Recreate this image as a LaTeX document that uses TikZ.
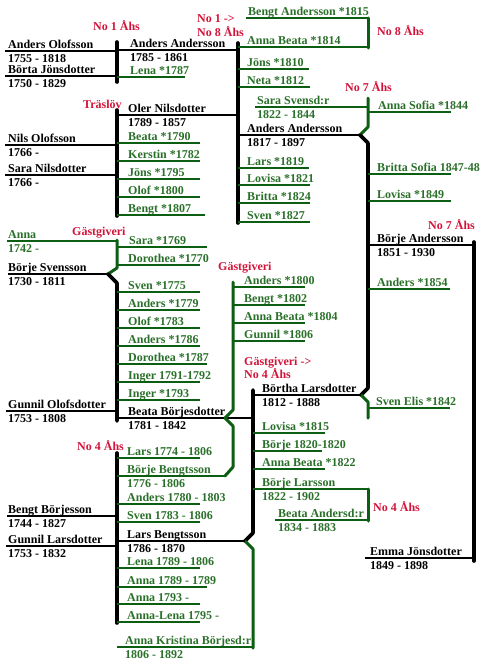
\documentclass[tikz,border=0pt]{standalone}
\usepackage{fontspec}
\setmainfont{Liberation Serif}
\usepackage{tikz}
\usetikzlibrary{positioning}
\definecolor{Leaf}{HTML}{0C5E12}
\definecolor{LeafText}{HTML}{2A702A}
\definecolor{Crimson}{HTML}{D2143A}
\tikzset{
  pname/.style={anchor=base west, inner sep=0pt, font=\fontsize{12}{14}\selectfont\bfseries},
  pkid/.style={pname, text=LeafText},
  pnote/.style={pname, text=Crimson},
  tie/.style={line width=2.8pt},
  kidtie/.style={line width=2.2pt, draw=Leaf},
  bar/.style={line width=3.6pt, line cap=round, line join=round},
  kidbar/.style={line width=3pt, draw=Leaf, line cap=round, line join=round},
}

\begin{document}
\begin{tikzpicture}[x=1pt, y=-1pt]
  \useasboundingbox (0,0) rectangle (490,665);

  % top left family
  \node[pnote] (n1) at (93,30) {No 1 Åhs};
  \node[pnote] (n18a) at (197,22) {No 1 ->};
  \node[pnote] (n18b) at (197,36) {No 8 Åhs};
  \node[pname] (aolof) at (8,48) {Anders Olofsson};
  \node[pname] (aolofd) at (8,62) {1755 - 1818};
  \node[pname] (bjons) at (8,73) {Börta Jönsdotter};
  \node[pname] (bjonsd) at (8,87) {1750 - 1829};
  \draw[tie] (5,51) -- (117,51);
  \draw[tie] (5,76) -- (117,76);
  \draw[bar] (117,42) -- (117,82);
  \node[pname] (aand) at (130,47) {Anders Andersson};
  \node[pname] (aandd) at (130,61) {1785 - 1861};
  \draw[tie] (117,50) -- (238,50);
  \node[pkid] (lena) at (130,74) {Lena *1787};
  \draw[kidtie] (117,77) -- (185,77);

  % Traslov family
  \node[pnote] (tras) at (83,108) {Träslöv};
  \node[pname] (oler) at (128,112) {Oler Nilsdotter};
  \node[pname] (olerd) at (128,126) {1789 - 1857};
  \draw[tie] (117,115) -- (238,115);
  \node[pname] (nolof) at (8,142) {Nils Olofsson};
  \node[pname] (nolofd) at (8,156) {1766 -};
  \draw[tie] (5,145) -- (117,145);
  \node[pname] (snils) at (8,172) {Sara Nilsdotter};
  \node[pname] (snilsd) at (8,186) {1766 -};
  \draw[tie] (5,175) -- (117,175);
  \draw[bar] (117,110) -- (117,216);
  \node[pkid] (beata90) at (128,140) {Beata *1790};
  \draw[kidtie] (117,143) -- (200,143);
  \node[pkid] (kerst) at (128,158) {Kerstin *1782};
  \draw[kidtie] (117,161) -- (200,161);
  \node[pkid] (jons95) at (128,176) {Jöns *1795};
  \draw[kidtie] (117,179) -- (200,179);
  \node[pkid] (olof00) at (128,194) {Olof *1800};
  \draw[kidtie] (117,197) -- (200,197);
  \node[pkid] (bengt07) at (128,212) {Bengt *1807};
  \draw[kidtie] (117,215) -- (205,215);

  % children of Anders and Oler
  \draw[bar] (238,43) -- (238,223);
  \node[pkid] (bengt15) at (248,15) {Bengt Andersson *1815};
  \draw[kidtie] (246,18) -- (368,18);
  \node[pkid] (abeata14) at (247,44) {Anna Beata *1814};
  \draw[kidtie] (238,47) -- (368,47);
  \draw[kidbar] (368,18) -- (368,48);
  \node[pnote] (n8) at (377,35.5) {No 8 Åhs};
  \node[pkid] (jons10) at (247,66) {Jöns *1810};
  \draw[kidtie] (238,69) -- (309,69);
  \node[pkid] (neta) at (247,84) {Neta *1812};
  \draw[kidtie] (238,87) -- (310,87);
  \node[pnote] (n7a) at (345,91.5) {No 7 Åhs};
  \node[pkid] (ssven) at (257,104) {Sara Svensd:r};
  \node[pkid] (ssvend) at (257,118) {1822 - 1844};
  \draw[kidtie] (255,107) -- (368,107);
  \node[pname] (aand17) at (247,132) {Anders Andersson};
  \node[pname] (aand17d) at (247,146) {1817 - 1897};
  \draw[tie] (238,135) -- (360,135);
  \node[pkid] (lars19) at (247,165) {Lars *1819};
  \draw[kidtie] (238,168) -- (309,168);
  \node[pkid] (lov21) at (247,182) {Lovisa *1821};
  \draw[kidtie] (238,185) -- (310,185);
  \node[pkid] (brit24) at (247,200) {Britta *1824};
  \draw[kidtie] (238,203) -- (310,203);
  \node[pkid] (sven27) at (247,219) {Sven *1827};
  \draw[kidtie] (238,222) -- (310,222);

  % children of Anders Andersson 1817
  \draw[kidbar] (368,98) -- (368,127) -- (360,135);
  \draw[bar] (360,135) -- (368,143) -- (368,388) -- (361,395);
  \draw[kidbar] (361,395) -- (368,402) -- (368,418);
  \node[pkid] (asofia) at (378,109) {Anna Sofia *1844};
  \draw[kidtie] (368,112) -- (451,112);
  \node[pkid] (bsofia) at (377,171) {Britta Sofia 1847-48};
  \draw[kidtie] (368,174) -- (451,174);
  \node[pkid] (lov49) at (377,198) {Lovisa *1849};
  \draw[kidtie] (368,201) -- (451,201);
  \node[pnote] (n7b) at (428,229) {No 7 Åhs};
  \node[pname] (band) at (377,242) {Börje Andersson};
  \node[pname] (bandd) at (377,256) {1851 - 1930};
  \draw[tie] (368,245) -- (474,245);
  \draw[bar] (474,242) -- (474,561);
  \node[pkid] (and54) at (377,286) {Anders *1854};
  \draw[kidtie] (368,289) -- (450,289);
  \node[pkid] (selis) at (376,405) {Sven Elis *1842};
  \draw[kidtie] (368,408) -- (450,408);
  \node[pname] (emma) at (370,555) {Emma Jönsdotter};
  \node[pname] (emmad) at (370,569) {1849 - 1898};
  \draw[tie] (365,558) -- (474,558);

  % Borje Svensson family
  \node[pnote] (gast1) at (72,235) {Gästgiveri};
  \node[pkid] (anna42) at (8,238) {Anna};
  \node[pkid] (anna42d) at (8,252) {1742 -};
  \draw[kidtie] (7,241) -- (117,241);
  \node[pkid] (sara69) at (129,244) {Sara *1769};
  \draw[kidtie] (117,247) -- (207,247);
  \node[pkid] (doro70) at (128,262) {Dorothea *1770};
  \draw[kidtie] (117,265) -- (200,265);
  \draw[kidbar] (117,240) -- (117,268) -- (108,274);
  \node[pname] (bsven) at (8,271) {Börje Svensson};
  \node[pname] (bsvend) at (8,285) {1730 - 1811};
  \draw[tie] (8,274) -- (108,274);
  \draw[bar] (108,274) -- (117,283) -- (117,421);
  \node[pkid] (sven75) at (128,289) {Sven *1775};
  \draw[kidtie] (117,292) -- (200,292);
  \node[pkid] (and79) at (128,307) {Anders *1779};
  \draw[kidtie] (117,310) -- (200,310);
  \node[pkid] (olof83) at (128,325) {Olof *1783};
  \draw[kidtie] (117,328) -- (200,328);
  \node[pkid] (and86) at (128,343) {Anders *1786};
  \draw[kidtie] (117,346) -- (200,346);
  \node[pkid] (doro87) at (128,361) {Dorothea *1787};
  \draw[kidtie] (117,364) -- (207,364);
  \node[pkid] (inger91) at (128,379) {Inger 1791-1792};
  \draw[kidtie] (117,382) -- (200,382);
  \node[pkid] (inger93) at (128,397) {Inger *1793};
  \draw[kidtie] (117,400) -- (200,400);
  \node[pname] (golof) at (8,408) {Gunnil Olofsdotter};
  \node[pname] (golofd) at (8,422) {1753 - 1808};
  \draw[tie] (6,411) -- (117,411);
  \node[pname] (bborj) at (128,415) {Beata Börjesdotter};
  \node[pname] (bborjd) at (128,429) {1781 - 1842};
  \draw[tie] (117,418) -- (253,418);

  % Gastgiveri children
  \node[pnote] (gast2) at (218,270) {Gästgiveri};
  \draw[kidbar] (233,282) -- (233,410) -- (225,418) -- (233,426) -- (233,467) -- (225,476);
  \node[pkid] (and00) at (244,284) {Anders *1800};
  \draw[kidtie] (233,287) -- (305,287);
  \node[pkid] (bengt02) at (244,302) {Bengt *1802};
  \draw[kidtie] (233,305) -- (305,305);
  \node[pkid] (abeata04) at (244,320) {Anna Beata *1804};
  \draw[kidtie] (233,323) -- (305,323);
  \node[pkid] (gunn06) at (244,338) {Gunnil *1806};
  \draw[kidtie] (233,341) -- (305,341);
  \node[pnote] (gast3) at (244,365) {Gästgiveri ->};
  \node[pnote] (n4a) at (244,378) {No 4 Åhs};

  % children of Lars and Beata
  \draw[bar] (253,390) -- (253,533) -- (245,541);
  \draw[kidbar] (245,541) -- (253,549) -- (253,648);
  \node[pname] (blars) at (262,392) {Börtha Larsdotter};
  \node[pname] (blarsd) at (262,406) {1812 - 1888};
  \draw[tie] (253,395) -- (361,395);
  \node[pkid] (lov15) at (262,430) {Lovisa *1815};
  \draw[kidtie] (253,433) -- (325,433);
  \node[pkid] (borje20) at (262,448) {Börje 1820-1820};
  \draw[kidtie] (253,451) -- (322,451);
  \node[pkid] (abeata22) at (262,466) {Anna Beata *1822};
  \draw[kidtie] (253,469) -- (325,469);
  \node[pkid] (blarsson) at (262,486) {Börje Larsson};
  \node[pkid] (blarssond) at (262,500) {1822 - 1902};
  \draw[kidtie] (253,489) -- (368,489);
  \node[pkid] (bandsd) at (278,517) {Beata Andersd:r};
  \node[pkid] (bandsdd) at (278,531) {1834 - 1883};
  \draw[kidtie] (275,520) -- (368,520);
  \draw[kidbar] (368,489) -- (368,521);
  \node[pnote] (n4b) at (373,511) {No 4 Åhs};

  % Bengt Borjesson family
  \node[pnote] (n4c) at (77,450) {No 4 Åhs};
  \draw[bar] (117,453) -- (117,623);
  \node[pkid] (lars74) at (127,455) {Lars 1774 - 1806};
  \draw[kidtie] (117,458) -- (200,458);
  \node[pkid] (bbengt) at (127,473) {Börje Bengtsson};
  \node[pkid] (bbengtd) at (127,487) {1776 - 1806};
  \draw[kidtie] (117,476) -- (225,476);
  \node[pkid] (and80) at (127,501) {Anders 1780 - 1803};
  \draw[kidtie] (117,504) -- (200,504);
  \node[pkid] (sven83) at (127,519) {Sven 1783 - 1806};
  \draw[kidtie] (117,522) -- (200,522);
  \node[pname] (bborjes) at (8,513) {Bengt Börjesson};
  \node[pname] (bborjesd) at (8,527) {1744 - 1827};
  \draw[tie] (7,516) -- (117,516);
  \node[pname] (glars) at (8,543) {Gunnil Larsdotter};
  \node[pname] (glarsd) at (8,557) {1753 - 1832};
  \draw[tie] (6,546) -- (117,546);
  \node[pname] (lbengt) at (127,538) {Lars Bengtsson};
  \node[pname] (lbengtd) at (127,552) {1786 - 1870};
  \draw[tie] (117,541) -- (245,541);
  \node[pkid] (lena89) at (127,565) {Lena 1789 - 1806};
  \draw[kidtie] (117,568) -- (200,568);
  \node[pkid] (anna89) at (127,584) {Anna 1789 - 1789};
  \draw[kidtie] (117,587) -- (207,587);
  \node[pkid] (anna93) at (127,601) {Anna 1793 -};
  \draw[kidtie] (117,604) -- (200,604);
  \node[pkid] (alena) at (127,619) {Anna-Lena 1795 -};
  \draw[kidtie] (117,622) -- (200,622);
  \node[pkid] (akrist) at (125,644) {Anna Kristina Börjesd:r};
  \node[pkid] (akristd) at (125,658) {1806 - 1892};
  \draw[kidtie] (117,647) -- (253,647);
\end{tikzpicture}
\end{document}
